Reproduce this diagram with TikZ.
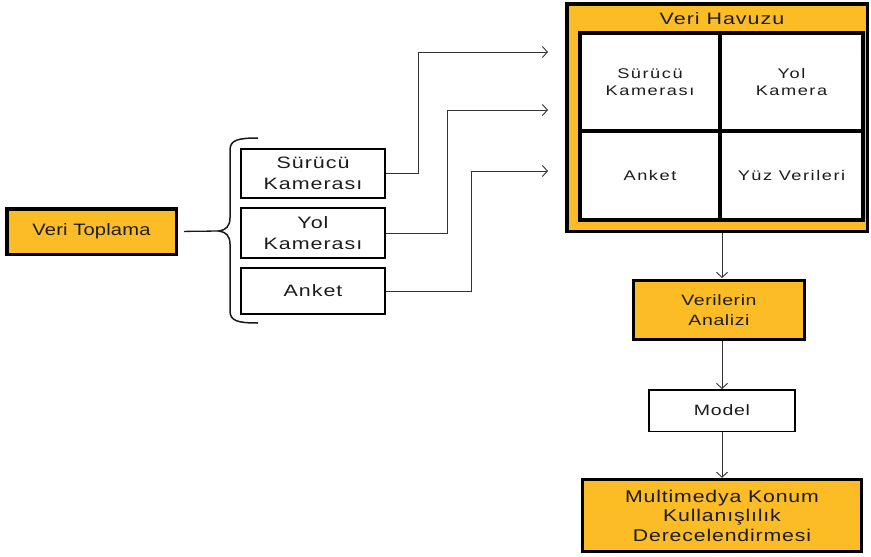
\documentclass[tikz,border=0pt]{standalone}
\usepackage{fontspec}
\setmainfont{Liberation Sans}
\usetikzlibrary{arrows.meta}
\definecolor{org}{HTML}{FBBC26}
\definecolor{txt}{HTML}{1C1C1C}
\newcommand\bxfont[4]{\fontsize{#1}{#2}\selectfont\addfontfeature{FakeStretch=#3,LetterSpace=#4}}
\begin{document}
\begin{tikzpicture}[x=1pt,y=-1pt,
  box/.style={draw=black, fill=white, line width=2pt, inner sep=0pt, align=center, text=txt, font=\bxfont{16.5}{21}{1.3}{6}},
  obox/.style={box, fill=org, line width=3.5pt},
  cell/.style={box, line width=3.5pt, font=\bxfont{14}{17.5}{1.3}{11}},
  conn/.style={draw=black!80, line width=0.9pt, -{Straight Barb[length=5pt,width=11pt]}},
]
\useasboundingbox (0,0) rectangle (871,557);

% left part
\node[obox, minimum width=169.5pt, minimum height=45.5pt, font=\bxfont{16.5}{21}{1.22}{1}] (vt) at (91.5,231.5) {Veri Toplama};
\node[box, minimum width=144pt, minimum height=49pt] (s1) at (313,173.5) {Sürücü\\Kamerası};
\node[box, minimum width=144pt, minimum height=50pt] (s2) at (313,233) {Yol\\Kamerası};
\node[box, minimum width=144pt, minimum height=46pt] (s3) at (313,291) {Anket};

% brace
\coordinate (bt) at (219,231);
\draw[line width=1.5pt, draw=black!90] (258,138) .. controls (238,138) and (230,140) .. (230,150) -- (230,218)
  .. controls (230,226) and (226,230) .. (bt)
  .. controls (226,232) and (230,236) .. (230,244) -- (230,311)
  .. controls (230,321) and (238,323) .. (258,323);
\draw[line width=1.3pt, draw=black!90, shorten <=6pt] (vt.east) -- (bt);

% Veri Havuzu
\node[obox, minimum width=300.5pt, minimum height=227.5pt] (hv) at (717,117.5) {};
\node[text=txt, font=\bxfont{16.5}{21}{1.3}{6}, inner sep=0pt] (hvt) at (722,19) {Veri Havuzu};
\node[cell, minimum width=140pt, minimum height=98pt] (c11) at (650,82) {Sürücü\\Kamerası};
\node[cell, minimum width=143pt, minimum height=98pt] (c12) at (791.5,82) {Yol\\Kamera};
\node[cell, minimum width=140pt, minimum height=89pt] (c21) at (650,175.5) {Anket};
\node[cell, minimum width=143pt, minimum height=89pt] (c22) at (791.5,175.5) {Yüz Verileri};

% arrows into pool
\coordinate (k1) at (418,52);  \coordinate (t1) at (548,52);
\coordinate (k2) at (447,110); \coordinate (t2) at (548,110);
\coordinate (k3) at (471,171); \coordinate (t3) at (548,171);
\draw[conn] (s1.east) -| (k1) -- (t1);
\draw[conn] (s2.east) -| (k2) -- (t2);
\draw[conn] (s3.east) -| (k3) -- (t3);

% right column
\node[obox, minimum width=171pt, minimum height=59pt, font=\bxfont{15}{20}{1.3}{4}] (an) at (719,310) {Verilerin\\Analizi};
\node[box, line width=1.5pt, minimum width=146pt, minimum height=41.5pt, font=\bxfont{15}{20}{1.3}{5}] (md) at (722,410.5) {Model};
\node[obox, minimum width=279pt, minimum height=72pt, font=\bxfont{17}{19.5}{1.25}{5}] (mk) at (722,515.5) {Multimedya Konum\\Kullanışlılık\\Derecelendirmesi};

\coordinate (a0) at (722,233);
\draw[conn] (a0) -- (722,278) coordinate (a1);
\draw[conn] (an.south -| md.north) -- (md.north);
\draw[conn] (md.south) -- (mk.north);
\end{tikzpicture}
\end{document}
